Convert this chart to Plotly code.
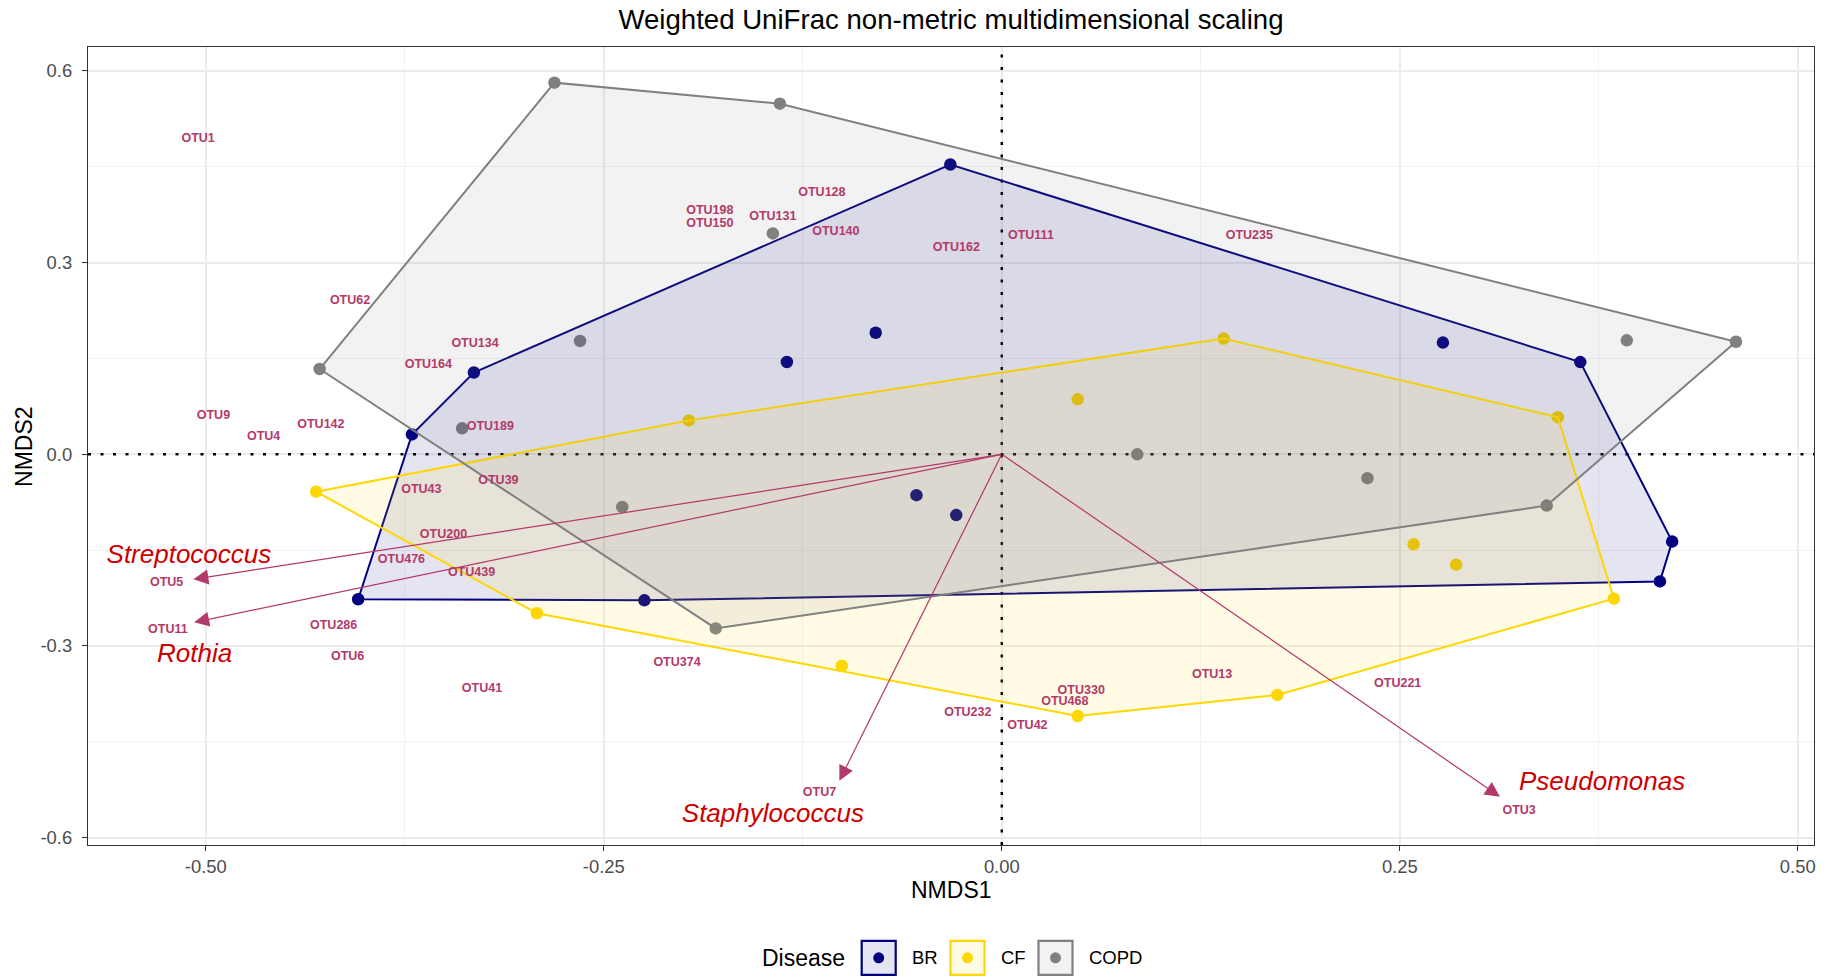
import plotly.graph_objects as go

# ---------------- data ----------------
groups = ["BR", "CF", "COPD"]
group_colors = ["#000080", "#FFD700", "#808080"]
group_fills = ["rgba(0,0,128,0.1)", "rgba(255,215,0,0.1)", "rgba(128,128,128,0.1)"]

br_x = [-0.0323, -0.3316, -0.3705, -0.4043, -0.2245, 0.4134, 0.4211, 0.3634, 0.2771, -0.0792, -0.1350, -0.0536, -0.0286]
br_y = [0.4536, 0.1280, 0.0311, -0.2268, -0.2286, -0.1989, -0.1366, 0.1443, 0.1748, 0.1902, 0.1445, -0.0640, -0.0951]

cf_x = [-0.4307, -0.1966, 0.1394, 0.3493, 0.3845, 0.1731, 0.0477, -0.1005, -0.2920, 0.0477, 0.2587, 0.2854]
cf_y = [-0.0585, 0.0530, 0.1811, 0.0581, -0.2259, -0.3768, -0.4097, -0.3311, -0.2488, 0.0860, -0.1409, -0.1727]

copd_x = [-0.2810, -0.1394, 0.4612, 0.3423, -0.1797, -0.4285, -0.1438, -0.2649, -0.3390, -0.2384, 0.0851, 0.2297, 0.3926]
copd_y = [0.5817, 0.5488, 0.1761, -0.0803, -0.2725, 0.1335, 0.3457, 0.1774, 0.0407, -0.0823, 0.0000, -0.0373, 0.1784]

otu_names = ["OTU1", "OTU198", "OTU150", "OTU128", "OTU131", "OTU140", "OTU162", "OTU111", "OTU235",
             "OTU62", "OTU134", "OTU164", "OTU9", "OTU4", "OTU142", "OTU189", "OTU43", "OTU39",
             "OTU200", "OTU476", "OTU439", "OTU5", "OTU11", "OTU286", "OTU6", "OTU41", "OTU374",
             "OTU7", "OTU232", "OTU42", "OTU330", "OTU468", "OTU13", "OTU221", "OTU3"]
otu_x = [-0.5048, -0.1834, -0.1834, -0.1130, -0.1438, -0.1042, -0.0286, 0.0183, 0.1555,
         -0.4094, -0.3309, -0.3602, -0.4952, -0.4637, -0.4277, -0.3213, -0.3646, -0.3162,
         -0.3507, -0.3771, -0.3331, -0.5246, -0.5238, -0.4197, -0.4109, -0.3265, -0.2040,
         -0.1145, -0.0213, 0.0161, 0.0499, 0.0396, 0.1321, 0.2487, 0.3250]
otu_y = [0.4937, 0.3803, 0.3602, 0.4096, 0.3712, 0.3474, 0.3236, 0.3419, 0.3419,
         0.2394, 0.1736, 0.1407, 0.0602, 0.0273, 0.0456, 0.0437, -0.0550, -0.0422,
         -0.1264, -0.1648, -0.1849, -0.2014, -0.2745, -0.2691, -0.3166, -0.3678, -0.3258,
         -0.5306, -0.4044, -0.4245, -0.3697, -0.3880, -0.3459, -0.3587, -0.5581]

genus_names = ["Streptococcus", "Rothia", "Staphylococcus", "Pseudomonas"]
arrow_x = [-0.5078, -0.5073, -0.1020, 0.3129]
arrow_y = [-0.1956, -0.2630, -0.5109, -0.5359]
genus_label_x = [-0.5106, -0.5070, -0.1438, 0.3771]
genus_label_y = [-0.1592, -0.3146, -0.5652, -0.5158]

x_ticks = [-0.50, -0.25, 0.00, 0.25, 0.50]
x_tick_labels = ["-0.50", "-0.25", "0.00", "0.25", "0.50"]
y_ticks = [-0.6, -0.3, 0.0, 0.3, 0.6]
y_tick_labels = ["-0.6", "-0.3", "0.0", "0.3", "0.6"]

x_range = [-0.574, 0.5102]
y_range = [-0.6115, 0.6375]

group_x = [br_x, cf_x, copd_x]
group_y = [br_y, cf_y, copd_y]

FONT = "Liberation Sans, Arial, Helvetica, sans-serif"
ARROW_COLOR = "#B3396A"
GENUS_COLOR = "#CD0000"


def convex_hull(xs, ys):
    pts = sorted(set(zip(xs, ys)))

    def cross(o, a, b):
        return (a[0] - o[0]) * (b[1] - o[1]) - (a[1] - o[1]) * (b[0] - o[0])

    lower = []
    for p in pts:
        while len(lower) >= 2 and cross(lower[-2], lower[-1], p) <= 0:
            lower.pop()
        lower.append(p)
    upper = []
    for p in reversed(pts):
        while len(upper) >= 2 and cross(upper[-2], upper[-1], p) <= 0:
            upper.pop()
        upper.append(p)
    return lower[:-1] + upper[:-1]


fig = go.Figure()

# dotted reference lines through the origin
DOT = dict(color="black", width=2.5, dash="3px,9.5px")
fig.add_trace(go.Scatter(x=x_range, y=[0, 0], mode="lines", line=DOT, showlegend=False,
                         hoverinfo="skip"))
fig.add_trace(go.Scatter(x=[0, 0], y=y_range, mode="lines", line=DOT, showlegend=False,
                         hoverinfo="skip"))

# points (polygons drawn over them, as in the reference)
for g, c, xs, ys in zip(groups, group_colors, group_x, group_y):
    fig.add_trace(go.Scatter(x=xs, y=ys, mode="markers", name=g, showlegend=False,
                             marker=dict(color=c, size=12.5, line=dict(width=0))))

# convex hull polygons
for g, c, f, xs, ys in zip(groups, group_colors, group_fills, group_x, group_y):
    hull = convex_hull(xs, ys)
    hx = [p[0] for p in hull] + [hull[0][0]]
    hy = [p[1] for p in hull] + [hull[0][1]]
    fig.add_trace(go.Scatter(x=hx, y=hy, mode="lines", fill="toself", fillcolor=f,
                             line=dict(color=c, width=2), showlegend=False, hoverinfo="skip"))

# OTU labels
fig.add_trace(go.Scatter(x=otu_x, y=otu_y, mode="text", text=otu_names, showlegend=False,
                         textfont=dict(family=FONT, size=12.5, color=ARROW_COLOR, weight="bold"),
                         textposition="middle center"))

# genus labels
fig.add_trace(go.Scatter(x=genus_label_x, y=genus_label_y, mode="text", text=genus_names,
                         showlegend=False,
                         textfont=dict(family=FONT, size=26, color=GENUS_COLOR, style="italic"),
                         textposition="middle center"))

annotations = []
for ax_, ay_ in zip(arrow_x, arrow_y):
    annotations.append(dict(x=ax_, y=ay_, ax=0, ay=0, xref="x", yref="y", axref="x", ayref="y",
                            showarrow=True, arrowhead=2, arrowsize=2.5, arrowwidth=1.2,
                            arrowcolor=ARROW_COLOR, text="", standoff=0, startstandoff=0))

# axis titles
annotations.append(dict(text="NMDS1", x=0.5, y=-0.0564, xref="paper", yref="paper",
                        showarrow=False, xanchor="center", yanchor="middle",
                        font=dict(family=FONT, size=23, color="black")))
annotations.append(dict(text="NMDS2", x=-0.0371, y=0.5, xref="paper", yref="paper",
                        showarrow=False, xanchor="center", yanchor="middle", textangle=-90,
                        font=dict(family=FONT, size=23, color="black")))

# custom legend (ggplot style keys)
PW, PH, L, B = 1726.0, 798.0, 88.0, 845.0
leg_y = (B - 957.8) / PH
annotations.append(dict(text="Disease", x=(847 - L) / PW, y=leg_y, xref="paper", yref="paper",
                        showarrow=False, xanchor="right", yanchor="middle",
                        font=dict(family=FONT, size=23, color="black")))
key_cx = [878.7, 967.5, 1055.5]
text_lx = [910.0, 999.0, 1086.7]
shapes = []
for g, c, f, kx, tx in zip(groups, group_colors, group_fills, key_cx, text_lx):
    xa = (kx - L) / PW
    shapes.append(dict(type="rect", xref="paper", yref="paper", xsizemode="pixel",
                       ysizemode="pixel", xanchor=xa, yanchor=leg_y, x0=-17, x1=17, y0=-17, y1=17,
                       fillcolor=f, line=dict(color=c, width=2.2), layer="above"))
    shapes.append(dict(type="circle", xref="paper", yref="paper", xsizemode="pixel",
                       ysizemode="pixel", xanchor=xa, yanchor=leg_y, x0=-5.5, x1=5.5, y0=-5.5, y1=5.5,
                       fillcolor=c, line=dict(width=0), layer="above"))
    annotations.append(dict(text=g, x=(tx - L) / PW, y=leg_y, xref="paper", yref="paper",
                            showarrow=False, xanchor="left", yanchor="middle",
                            font=dict(family=FONT, size=18.5, color="black")))

axis_common = dict(showgrid=True, gridcolor="#EBEBEB", gridwidth=1.8, zeroline=False,
                   showline=True, mirror=True, linecolor="#333333", linewidth=1.3,
                   ticks="outside", ticklen=5, tickwidth=1.3, tickcolor="#333333",
                   tickfont=dict(family=FONT, size=18.4, color="#4D4D4D"))

fig.update_layout(
    width=1832, height=978,
    margin=dict(l=88, r=18, t=47, b=133),
    paper_bgcolor="white", plot_bgcolor="white",
    title=dict(text="Weighted UniFrac non-metric multidimensional scaling", x=0.5, xref="paper",
               xanchor="center", y=1 - 19.5 / 978, yref="container", yanchor="middle",
               font=dict(family=FONT, size=27.6, color="black")),
    xaxis=dict(range=x_range, tickvals=x_ticks, ticktext=x_tick_labels,
               ticklabelstandoff=0,
               minor=dict(tickvals=[-0.375, -0.125, 0.125, 0.375], showgrid=True,
                          gridcolor="#F2F2F2", gridwidth=1, ticklen=0),
               **axis_common),
    yaxis=dict(range=y_range, tickvals=y_ticks, ticktext=y_tick_labels,
               ticklabelstandoff=6,
               minor=dict(tickvals=[-0.45, -0.15, 0.15, 0.45], showgrid=True,
                          gridcolor="#F2F2F2", gridwidth=1, ticklen=0),
               **axis_common),
    annotations=annotations,
    shapes=shapes,
    showlegend=False,
)

fig.write_html("out.html", config={"displayModeBar": False},
               post_script="document.body.style.margin='0';document.body.style.overflow='hidden';")
